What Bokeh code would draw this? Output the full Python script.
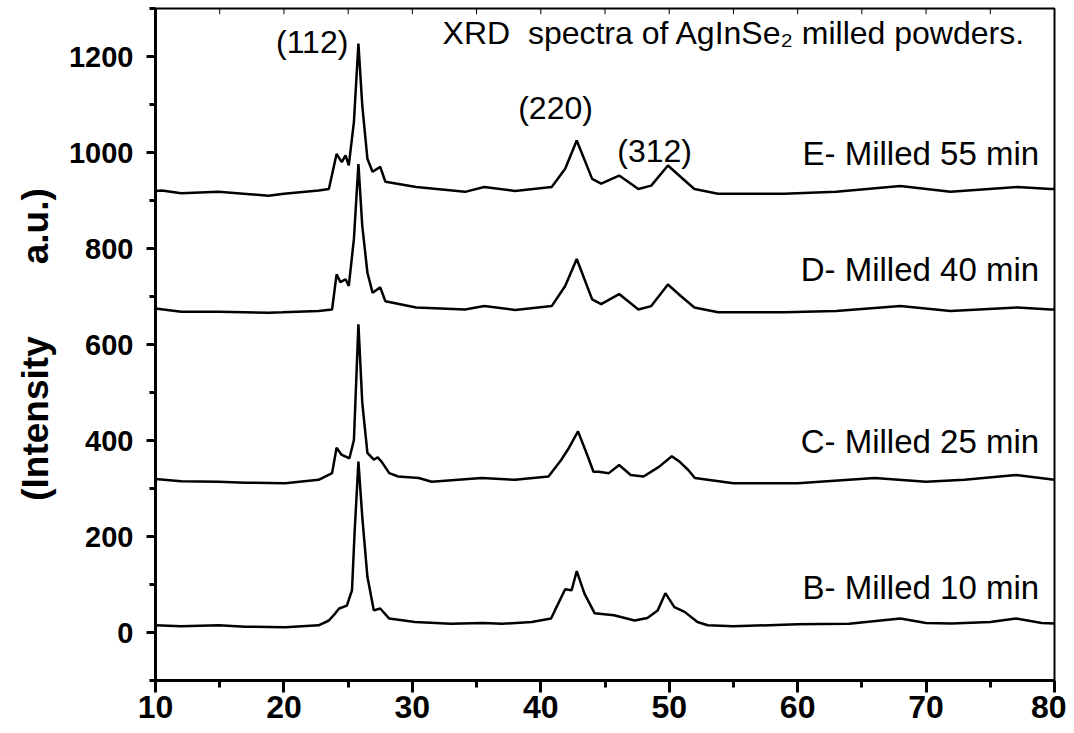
from bokeh.plotting import figure
from bokeh.models import Range1d, FixedTicker, Label
from bokeh.embed import file_html
from bokeh.resources import INLINE

# ---- data (2theta in degrees, intensity a.u.) ----
b_x = [10, 12, 14.9, 17, 20.1, 22.7, 23.5, 24.0, 24.3, 24.9, 25.3, 25.5, 25.8, 26.1, 26.5, 27.0, 27.5, 28.2,
       30.2, 33, 35.5, 37, 39.3, 40.8, 41.1, 41.9, 42.4, 42.8, 43.4, 44.2, 45.7, 47.3, 48.3, 49.1, 49.7, 50.4,
       51.2, 52.2, 53, 55, 60, 64, 68, 70, 72, 75, 77, 79, 80]
b_y = [15, 13, 15, 12, 11, 15, 25, 40, 50, 56, 88, 207, 356, 241, 116, 46, 50, 29,
       22, 18, 20, 18, 22, 29, 46, 90, 88, 128, 81, 40, 36, 25, 30, 46, 82, 53,
       43, 22, 15, 13, 17, 18, 29, 20, 19, 22, 29, 20, 19]

c_x = [10, 12, 14.9, 17, 20.1, 22.7, 23.75, 24.1, 24.5, 25.1, 25.45, 25.8, 26.1, 26.5, 27.0, 27.3, 27.6, 28.2,
       28.9, 30.5, 31.5, 35.4, 38, 40.6, 41.6, 42.2, 42.9, 43.7, 44.1, 44.5, 45.3, 46.1, 47, 48, 49.2, 50.2,
       50.8, 51.5, 52, 55, 60, 66, 70, 73, 77, 80]
c_y = [320, 315, 314, 312, 311, 318, 332, 385, 370, 363, 401, 642, 479, 374, 360, 365, 356, 332,
       325, 322, 314, 322, 318, 325, 360, 385, 419, 364, 335, 335, 332, 349, 328, 325, 345, 367,
       356, 338, 322, 311, 311, 322, 314, 318, 328, 318]

d_x = [10, 12, 14.9, 18.8, 19.9, 22.7, 23.75, 24.1, 24.4, 24.8, 25.05, 25.45, 25.8, 26.1, 26.5, 26.9, 27.5,
       27.9, 30.3, 34.1, 35.6, 38, 40.85, 41.9, 42.8, 44.0, 44.7, 46.1, 47.6, 48.6, 49.9, 50.9, 51.96, 53.8,
       58.95, 63, 68.0, 71.9, 77.1, 79.7, 80]
d_y = [675, 668, 668, 666, 667, 670, 673, 746, 730, 736, 722, 820, 976, 847, 750, 708, 719,
       690, 677, 673, 680, 672, 680, 722, 778, 694, 684, 705, 673, 680, 725, 701, 677, 667,
       667, 670, 680, 670, 677, 673, 673]

e_x = [10, 10.5, 12, 14.9, 18.8, 20, 22.7, 23.5, 24.1, 24.5, 24.8, 25.05, 25.45, 25.8, 26.1, 26.5, 26.9,
       27.5, 27.9, 30.3, 34.1, 35.6, 38, 40.85, 41.9, 42.8, 44.0, 44.7, 46.1, 47.6, 48.6, 49.9, 50.9, 51.96,
       53.8, 58.95, 63, 68.0, 71.9, 77.1, 79.7, 80]
e_y = [920, 921, 915, 918, 910, 914, 921, 924, 997, 980, 994, 973, 1064, 1227, 1098, 987, 960,
       970, 939, 928, 918, 928, 920, 928, 966, 1025, 945, 935, 952, 924, 931, 973, 949, 924,
       914, 914, 918, 930, 918, 928, 924, 924]

series_labels = ["B- Milled 10 min", "C- Milled 25 min", "D- Milled 40 min", "E- Milled 55 min"]
peak_labels = ["(112)", "(220)", "(312)"]
title_text = "XRD\u00a0\u00a0spectra of AgInSe\u2082 milled powders."
y_title = "(Intensity" + "\u00a0" * 7 + "a.u.)"
x_major = [10, 20, 30, 40, 50, 60, 70, 80]
x_minor = [15, 25, 35, 45, 55, 65, 75]
y_major = [0, 200, 400, 600, 800, 1000, 1200]
y_minor = [-100, 100, 300, 500, 700, 900, 1100, 1300]

FONT = "Liberation Sans"
Y0, Y1 = -100, 1300

p = figure(width=1066, height=732, output_backend="svg", toolbar_location=None,
           x_range=Range1d(10, 80), y_range=Range1d(Y0, Y1),
           min_border_left=155, min_border_right=12, min_border_top=8, min_border_bottom=52,
           background_fill_color="white", border_fill_color="white")
p.grid.visible = False
p.outline_line_color = "black"
p.outline_line_width = 2

p.xaxis.ticker = FixedTicker(ticks=x_major, minor_ticks=x_minor)
p.yaxis.ticker = FixedTicker(ticks=y_major, minor_ticks=y_minor)
for ax in (p.xaxis[0], p.yaxis[0]):
    ax.axis_line_width = 3
    ax.axis_line_color = "black"
    ax.major_tick_line_width = 3
    ax.minor_tick_line_width = 3
    ax.major_tick_in = 0
    ax.minor_tick_in = 0
    ax.major_label_text_font = FONT
    ax.major_label_text_font_style = "bold"
    ax.major_label_text_color = "black"
    ax.major_tick_line_color = "black"
    ax.minor_tick_line_color = "black"

p.xaxis.major_tick_out = 12
p.xaxis.minor_tick_out = 7
p.xaxis.major_label_text_font_size = "32px"
p.xaxis.major_label_standoff = 3

p.yaxis.major_tick_out = 9
p.yaxis.minor_tick_out = 6
p.yaxis.major_label_text_font_size = "29px"
p.yaxis.major_label_standoff = 13
p.yaxis.axis_label = y_title
p.yaxis.axis_label_text_font = FONT
p.yaxis.axis_label_text_font_style = "bold"
p.yaxis.axis_label_text_font_size = "37px"
p.yaxis.axis_label_text_color = "black"
p.yaxis.axis_label_standoff = 10

# small inward ticks along the top frame edge (at the x tick positions)
top_ticks = x_major + x_minor
p.segment(x0=top_ticks, y0=[Y1] * len(top_ticks), x1=top_ticks, y1=[Y1 - 12] * len(top_ticks),
          line_color="black", line_width=1)

for xs, ys in ((b_x, b_y), (c_x, c_y), (d_x, d_y), (e_x, e_y)):
    p.line(xs, ys, line_color="black", line_width=2.5)

# series labels
for txt, yy in zip(series_labels, [94, 398, 756, 998]):
    p.add_layout(Label(x=78.8, y=yy, text=txt, text_font=FONT, text_font_size="33px",
                       text_align="right", text_baseline="middle", text_color="black"))

# peak labels
for txt, xx, yy in zip(peak_labels, [22.2, 41.15, 48.86], [1231, 1092, 1004]):
    p.add_layout(Label(x=xx, y=yy, text=txt, text_font=FONT, text_font_size="32px",
                       text_align="center", text_baseline="middle", text_color="black"))

p.add_layout(Label(x=32.35, y=1248, text=title_text, text_font=FONT, text_font_size="32px",
                   text_align="left", text_baseline="middle", text_color="black"))

open("out.html", "w").write(file_html(p, INLINE))
